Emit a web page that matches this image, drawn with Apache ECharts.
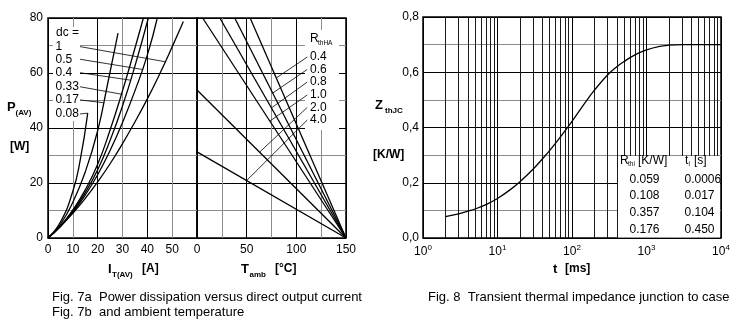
<!DOCTYPE html>
<html><head><meta charset="utf-8">
<script src="https://cdn.jsdelivr.net/npm/echarts@6/dist/echarts.min.js"></script>
<style>html,body{margin:0;padding:0;background:#fff}#c{width:737px;height:325px}</style>
</head><body><div id="c"></div>
<script>
// ---------- Fig. 7a : P(AV) [W] versus I_T(AV) [A], one curve per duty cycle ----------
const dcLabels = ['1', '0.5', '0.4', '0.33', '0.17', '0.08'];
const curveDc1   = [[0,0],[5,4.2],[10,9],[15,14.4],[20,20.4],[25,27],[30,34.3],[35,42.2],[40,50.6],[45,59.7],[50,69.5],[54.5,78.7]];
const curveDc05  = [[0,0],[5,4.2],[10,9.4],[15,15.6],[20,23],[25,31.8],[30,42],[35,53.5],[40,66.5],[44,80]];
const curveDc04  = [[0,0],[5,4.3],[10,9.8],[15,16.5],[20,24.8],[25,35.5],[30,48],[35,62.5],[40.4,80]];
const curveDc033 = [[0,0],[5,4.4],[10,10.2],[15,17.5],[20,26.8],[25,39.3],[30,53.5],[35,69],[38.4,80]];
const curveDc017 = [[0,0],[5,5],[10,13],[15,24],[20,39],[24,56],[28.2,74.5]];
const curveDc008 = [[0,0],[5,5.8],[10,17],[13,28.5],[16,45.4]];
// leader lines from the dc labels to their curves [I, P]
const dcLeaderStart = [[12.9,69.6],[12.9,65],[12.9,60.1],[12.9,55],[12.9,50.2],[12.9,45.1]];
const dcLeaderEnd   = [[47.2,64.1],[38,61.3],[33.2,57.4],[29.6,52.3],[22.4,49.2],[16,45.4]];

// ---------- Fig. 7b : P(AV) [W] versus T_amb [°C], one line per R_thHA ----------
const rthLabels = ['0.4', '0.6', '0.8', '1.0', '2.0', '4.0'];
const lineR04 = [[53.5,80],[150,0]];
const lineR06 = [[38,80],[150,0]];
const lineR08 = [[23,80],[150,0]];
const lineR10 = [[5.7,80],[150,0]];
const lineR20 = [[0,53.8],[150,0]];
const lineR40 = [[0,31.3],[150,0]];
const rLeaderStart = [[111,65.8],[111,61.3],[111,56.7],[111,52],[111,47.5],[111,42.9]];
const rLeaderEnd   = [[79.8,58.2],[76.2,52.7],[74.9,47.3],[73.3,42.5],[63,31.2],[50,20.9]];

// axis ticks (labelled)
const pTicks = [0, 20, 40, 60, 80];
const iTicks = [0, 10, 20, 30, 40, 50];
const tTicks = [0, 50, 100, 150];

// ---------- Fig. 8 : Z_thJC [K/W] versus t [ms] ----------
const tMs   = [2,3,4,5,7,10,15,20,30,40,50,70,100,150,200,300,400,500,700,1000,1500,2000,3000,5000,10000];
const zthjc = [0.077,0.087,0.097,0.105,0.121,0.143,0.176,0.204,0.249,0.286,0.316,0.366,0.422,0.49,0.535,0.59,0.62,0.639,0.663,0.681,0.694,0.698,0.7,0.7,0.7];
const tableRth = ['0.059', '0.108', '0.357', '0.176'];
const tableTau = ['0.0006', '0.017', '0.104', '0.450'];
const logMinor = [2,3,4,5,6,7,8,9];
const decades = [1,10,100,1000];

const FONT = '"Liberation Sans", Arial, sans-serif';
const BLACK = '#000', GRAY = '#8c8c8c';

function curve(data, xi, yi, w) {
  return {type:'line', xAxisIndex:xi, yAxisIndex:yi, data:data, showSymbol:false, symbol:'none',
    smooth:0.5, lineStyle:{color:BLACK, width:w||1.3}, silent:true, z:3, animation:false};
}
function straight(data, xi, yi, w) {
  return {type:'line', xAxisIndex:xi, yAxisIndex:yi, data:data, showSymbol:false, symbol:'none',
    lineStyle:{color:BLACK, width:w||1.3}, silent:true, z:3, animation:false};
}
function txt(x, y, text, size, bold, align) {
  return {type:'text', x:x, y:y, z:10, silent:true,
    style:{text:text, fontSize:size, fontFamily:FONT, fontWeight:bold?'bold':'normal', fill:BLACK,
      align:align||'left', verticalAlign:'middle'}};
}
function whiteBox(x, y, w, h) {
  return {type:'rect', z:1, silent:true, shape:{x:x, y:y, width:w, height:h}, style:{fill:'#fff'}};
}

const series = [];
[curveDc1, curveDc05, curveDc04, curveDc033, curveDc017, curveDc008].forEach(d => series.push(curve(d, 0, 0)));
dcLabels.forEach((l, i) => series.push(straight([dcLeaderStart[i], dcLeaderEnd[i]], 0, 0, 0.8)));
[lineR04, lineR06, lineR08, lineR10, lineR20, lineR40].forEach(d => series.push(straight(d, 1, 2)));
rthLabels.forEach((l, i) => series.push(straight([rLeaderStart[i], rLeaderEnd[i]], 1, 2, 0.8)));

const minorLines = [];
decades.forEach(d => logMinor.forEach(m => minorLines.push({xAxis: d * m})));
series.push({type:'line', xAxisIndex:2, yAxisIndex:3, data:tMs.map((t, i) => [t, zthjc[i]]),
  showSymbol:false, symbol:'none', smooth:0.4, lineStyle:{color:BLACK, width:1.3}, silent:true, z:3, animation:false,
  markLine:{silent:true, symbol:'none', animation:false, z:0, label:{show:false},
    lineStyle:{type:'solid', color:'#1a1a1a', width:1}, data:minorLines}});

const lab = {color:BLACK, fontSize:12, fontFamily:FONT};
const graphics = [
  whiteBox(53, 27, 27, 94),
  whiteBox(305, 30, 34, 100),
  whiteBox(618, 156, 102, 81.5),
  // Fig 7 axis titles
  txt(7, 107, 'P', 13, true), txt(15.5, 112.5, '(AV)', 8, true),
  txt(10, 147, '[W]', 12, true),
  txt(108, 269, 'I', 13, true), txt(112, 274.5, 'T(AV)', 8, true), txt(142, 269, '[A]', 12, true),
  txt(241, 269, 'T', 13, true), txt(249.5, 274.5, 'amb', 8, true), txt(275, 269, '[°C]', 12, true),
  // Fig 8 axis titles
  txt(375, 105, 'Z', 13, true), txt(385, 111, 'thJC', 8, true),
  txt(373, 155, '[K/W]', 12, true),
  txt(553, 269, 't', 13, true), txt(565, 269, '[ms]', 12, true),
  // dc labels
  txt(56, 33, 'dc =', 12, false),
  // R_thHA heading
  txt(310, 39, 'R', 12, false), txt(318, 43, 'thHA', 6.5, false),
  // table heading
  txt(620, 161, 'R', 12, false), txt(628, 164.5, 'thi', 6.5, false), txt(638, 161, '[K/W]', 12, false),
  txt(685, 161, 't', 12, false), txt(688.5, 164.5, 'i', 6.5, false), txt(694, 161, '[s]', 12, false),
  // captions
  txt(52, 297, 'Fig. 7a  Power dissipation versus direct output current', 13, false),
  txt(52, 312, 'Fig. 7b  and ambient temperature', 13, false),
  txt(428, 297, 'Fig. 8  Transient thermal impedance junction to case', 13, false)
];
const dcY = [46.7, 59.3, 72.7, 86.7, 100, 114];
dcLabels.forEach((l, i) => graphics.push(txt(55.5, dcY[i], l, 12, false)));
const rY = [57, 69.5, 82, 95, 107.5, 120];
rthLabels.forEach((l, i) => graphics.push(txt(310, rY[i], l, 12, false)));
const rowY = [179.3, 196, 213, 230];
tableRth.forEach((v, i) => graphics.push(txt(629.5, rowY[i], v, 12, false)));
tableTau.forEach((v, i) => graphics.push(txt(684.5, rowY[i], v, 12, false)));

const option = {
  animation:false,
  backgroundColor:'#fff',
  grid:[
    {left:48, top:18, width:149, height:220, show:true, borderColor:BLACK, borderWidth:1.5, backgroundColor:'transparent'},
    {left:197, top:18, width:149, height:220, show:true, borderColor:BLACK, borderWidth:1.5, backgroundColor:'transparent'},
    {left:423, top:17, width:298, height:221, show:true, borderColor:BLACK, borderWidth:1.5, backgroundColor:'transparent'}
  ],
  xAxis:[
    {gridIndex:0, type:'value', min:0, max:60, interval:10,
      axisLabel:Object.assign({margin:6, formatter:v => iTicks.indexOf(v) >= 0 ? String(v) : ''}, lab),
      axisLine:{show:false}, axisTick:{show:false},
      splitLine:{show:true, lineStyle:{color:[BLACK, GRAY], width:1}}},
    {gridIndex:1, type:'value', min:0, max:150, interval:25,
      axisLabel:Object.assign({margin:6, formatter:v => tTicks.indexOf(v) >= 0 ? String(v) : ''}, lab),
      axisLine:{show:false}, axisTick:{show:false},
      splitLine:{show:true, lineStyle:{color:[BLACK, GRAY], width:1}}},
    {gridIndex:2, type:'log', logBase:10, min:1, max:10000,
      axisLabel:{margin:6, formatter:v => '{b|10}{s|' + Math.round(Math.log10(v)) + '}',
        rich:{b:{fontSize:12, fontFamily:FONT, color:BLACK, lineHeight:16},
              s:{fontSize:8, fontFamily:FONT, color:BLACK, lineHeight:6, verticalAlign:'top'}}},
      axisLine:{show:false}, axisTick:{show:false},
      splitLine:{show:true, lineStyle:{color:BLACK, width:1}}}
  ],
  yAxis:[
    {gridIndex:0, type:'value', min:0, max:80, interval:10,
      axisLabel:Object.assign({margin:5, formatter:v => pTicks.indexOf(v) >= 0 ? String(v) : ''}, lab),
      axisLine:{show:false}, axisTick:{show:false},
      splitLine:{show:true, lineStyle:{color:[BLACK, GRAY], width:1}}},
    {gridIndex:0, type:'value', min:0, max:80, interval:20, axisLabel:{show:false},
      axisLine:{show:false}, axisTick:{show:true, inside:false, length:3, lineStyle:{color:BLACK}},
      splitLine:{show:false}},
    {gridIndex:1, type:'value', min:0, max:80, interval:10, axisLabel:{show:false},
      axisLine:{show:false}, axisTick:{show:false},
      splitLine:{show:true, lineStyle:{color:[BLACK, GRAY], width:1}}},
    {gridIndex:2, type:'value', min:0, max:0.8, interval:0.1,
      axisLabel:Object.assign({margin:4, formatter:v => {const k = Math.round(v * 10); return k % 2 === 0 ? (k / 10).toFixed(1).replace('.', ',') : '';}}, lab),
      axisLine:{show:false}, axisTick:{show:false},
      splitLine:{show:true, lineStyle:{color:[BLACK, GRAY], width:1}}}
  ],
  series:series,
  graphic:graphics
};
const chart = echarts.init(document.getElementById('c'));
chart.setOption(option);
</script></body></html>
